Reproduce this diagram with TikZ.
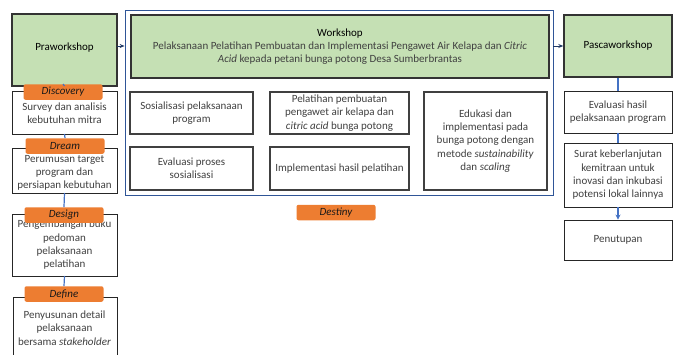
\documentclass[tikz,border=0pt]{standalone}
\usepackage{fontspec}
\setmainfont{Carlito}
\usetikzlibrary{arrows.meta}
\definecolor{boxgreen}{HTML}{C5E0B4}
\definecolor{lblorange}{HTML}{ED7D31}
\definecolor{txtgray}{HTML}{404040}
\definecolor{linkblue}{HTML}{4472C4}
\definecolor{framblue}{HTML}{2F5597}
\definecolor{arrblue}{HTML}{1F3864}
\begin{document}
\begin{tikzpicture}[x=1pt,y=-1pt,
  every node/.style={font=\fontsize{11}{13.3}\selectfont, inner sep=0pt},
  greenbox/.style={draw=black!80, line width=1.4pt, fill=boxgreen, text=black},
  whitebox/.style={draw=black!85, line width=0.9pt, fill=white, text=txtgray},
  innerbox/.style={draw=black!75, line width=1.3pt, fill=white, text=txtgray},
  tag/.style={fill=lblorange, rounded corners=2pt, minimum width=79pt, minimum height=15.5pt, text=black!90, font=\fontsize{11}{12}\selectfont\itshape},
  link/.style={draw=linkblue, line width=1.2pt},
  flow/.style={draw=arrblue, line width=1pt, -{Stealth[length=5pt,width=4pt]}}
]
\useasboundingbox (0,0) rectangle (673,354);

% ---- left column ----
\path[greenbox] (12,14) rectangle (117,86);
\node[text=black] (prw) at (64.5,48) {Praworkshop};
\coordinate (prwS) at (64.5,86);
\coordinate (prwE) at (117,46);

\path[whitebox] (12,91) rectangle (117,134);
\node[text=txtgray, align=center] (dis) at (64.5,113) {Survey dan analisis\\kebutuhan mitra};
\coordinate (disS) at (64.5,134);
\node[tag] (tdis) at (63,92) {Discovery};

\path[whitebox] (12,148) rectangle (117,193);
\node[text=txtgray, align=center] (drm) at (64.5,173) {Perumusan target\\program dan\\persiapan kebutuhan};
\coordinate (drmS) at (64.5,193);
\node[tag] (tdrm) at (65,146) {Dream};

\path[whitebox] (12,214) rectangle (117,276);
\node[text=txtgray, align=center] (dsg) at (64.5,245) {Pengembangan buku\\pedoman\\pelaksanaan\\pelatihan};
\coordinate (dsgS) at (64.5,276);
\node[tag] (tdsg) at (64,215) {Design};

\path[whitebox] (13,297) rectangle (117,362);
\node[text=txtgray, align=center] (dfn) at (64.5,328) {Penyusunan detail\\pelaksanaan\\bersama \textit{stakeholder}};
\node[tag] (tdfn) at (64,294) {Define};

\draw[link] (prwS) -- (tdis.north);
\draw[link] (disS) -- (tdrm.north);
\draw[link] (drmS) -- (tdsg.north);
\draw[link] (dsgS) -- (tdfn.north);

% ---- workshop ----
\node[draw=framblue, line width=0.8pt, minimum width=428pt, minimum height=185pt] (wout) at (339,102.5) {};
\node[greenbox, minimum width=418pt, minimum height=63pt, align=center, text=txtgray] (ws) at (340,46.5)
  {{\color{black}Workshop}\\Pelaksanaan Pelatihan Pembuatan dan Implementasi Pengawet Air Kelapa dan \textit{Citric}\\\textit{Acid} kepada petani bunga potong Desa Sumberbrantas};

\node[innerbox, minimum width=123pt, minimum height=42pt, align=center] (a) at (191.5,113) {Sosialisasi pelaksanaan\\program};
\node[innerbox, minimum width=139pt, minimum height=42pt, align=center] (b) at (339.5,113) {Pelatihan pembuatan\\pengawet air kelapa dan\\\textit{citric acid} bunga potong};
\node[innerbox, minimum width=123pt, minimum height=98pt, align=center] (c) at (485.5,141) {Edukasi dan\\implementasi pada\\bunga potong dengan\\metode \textit{sustainability}\\dan \textit{scaling}};
\node[innerbox, minimum width=123pt, minimum height=43pt, align=center] (d) at (191.5,168.5) {Evaluasi proses\\sosialisasi};
\node[innerbox, minimum width=139pt, minimum height=43pt, align=center] (e) at (339.5,168.5) {Implementasi hasil pelatihan};

\node[tag] (tdst) at (336,212.5) {Destiny};

% ---- right column ----
\node[greenbox, minimum width=108pt, minimum height=62pt] (pw) at (618,46) {Pascaworkshop};
\node[whitebox, minimum width=108pt, minimum height=42pt, align=center] (ev) at (618,112) {Evaluasi hasil\\pelaksanaan program};
\node[whitebox, minimum width=108pt, minimum height=64pt, align=center] (su) at (618,175) {Surat keberlanjutan\\kemitraan untuk\\inovasi dan inkubasi\\potensi lokal lainnya};
\node[whitebox, minimum width=108pt, minimum height=40pt, align=center] (pe) at (618,240) {Penutupan};

\draw[link] (pw.south) -- (ev.north);
\draw[link] (ev.south) -- (su.north);
\draw[link, -{Stealth[length=5pt,width=5pt]}] (su.south) -- (pe.north);

% ---- arrows between phases ----
\draw[flow] (prwE) -- (prwE -| wout.west);
\draw[flow] (wout.east |- pw.west) -- (pw.west);
\end{tikzpicture}
\end{document}
